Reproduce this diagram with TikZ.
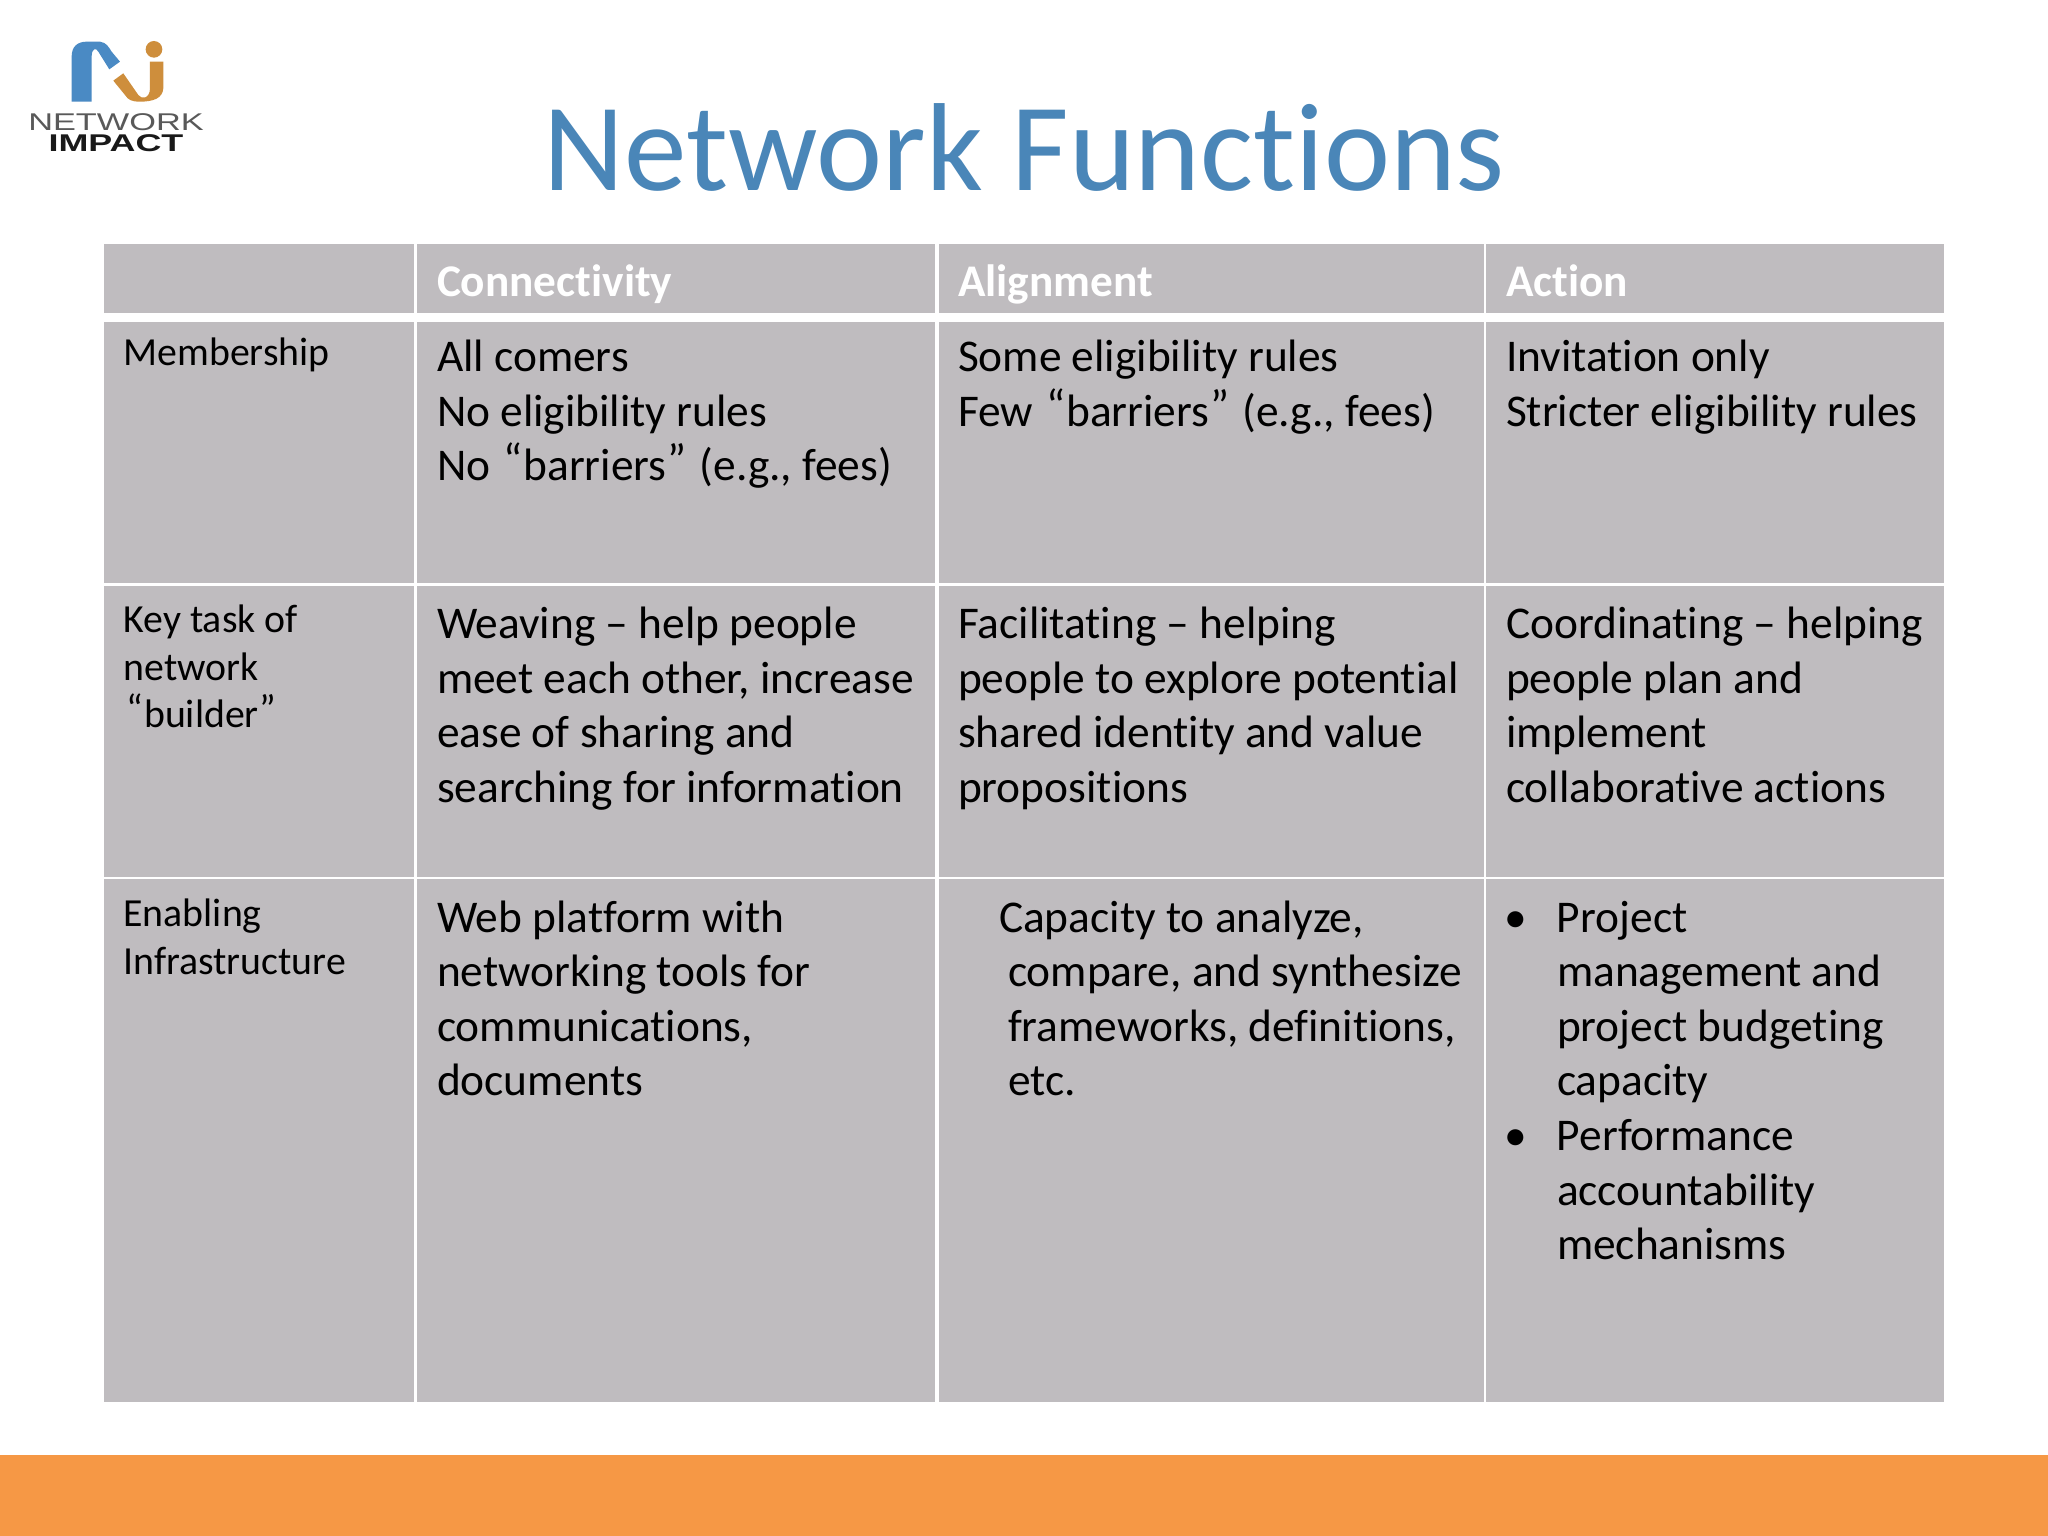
\documentclass[tikz,border=0pt]{standalone}
\usepackage{fontspec}
\setmainfont[Ligatures={NoCommon}]{Carlito}
\newfontfamily\logofont{Liberation Sans}
\definecolor{cellgray}{HTML}{BFBCBF}
\definecolor{titleblue}{HTML}{4A86B8}
\definecolor{bandorange}{HTML}{F69845}
\definecolor{logoblue}{HTML}{4A8AC4}
\definecolor{logoorange}{HTML}{CE8E3C}
\newcommand{\bodyfont}{\fontsize{45.4}{54.6}\selectfont}
\newcommand{\labelfont}{\fontsize{39.8}{47.7}\selectfont}
\newcommand{\cellpar}[2]{\parbox[t]{#1pt}{\raggedright\leavevmode #2}}
\newcommand{\qo}{\raisebox{5pt}{\kern3pt “\kern1pt}}
\newcommand{\qc}{\raisebox{5pt}{\kern1pt ”\kern3pt}}
\tikzset{
  cellbox/.style={fill=cellgray,draw=none,anchor=north west,inner sep=0pt,outer sep=0pt},
  txt/.style={anchor=base west,inner sep=0pt,outer sep=0pt,text=black},
  headtxt/.style={anchor=base west,inner sep=0pt,outer sep=0pt,text=white,font=\fontsize{45.3}{50}\selectfont\bfseries},
}
\begin{document}
\begin{tikzpicture}[x=1pt,y=-1pt]
\useasboundingbox (0,0) rectangle (2048,1536);
\fill[white] (0,0) rectangle (2048,1536);
\fill[bandorange] (0,1455) rectangle (2048,1536);
% logo
\begin{scope}[shift={(0,20)},x=0.3333pt,y=-0.3333pt]
\fill[logoblue] (215,245) -- (215,110) .. controls (215,80) and (232,65) .. (260,65) -- (300,65) .. controls (320,68) and (325,80) .. (335,95) -- (360,125) -- (328,148) -- (295,95) .. controls (288,82) and (275,85) .. (275,110) -- (275,245) -- cycle;
\fill[logoorange] (462,88) circle[radius=25];
\fill[logoorange] (340,182) -- (370,160) -- (415,225) .. controls (425,240) and (450,235) .. (450,205) -- (450,125) -- (490,125) -- (490,205) .. controls (488,235) and (460,245) .. (420,245) .. controls (395,245) and (385,240) .. (375,225) -- cycle;
\end{scope}
\node[inner sep=0pt,text=black!65,font=\logofont\fontsize{22}{22}\selectfont] (logoa) at (116,122) {\scalebox{1.56}[1.1]{NETWORK}};
\node[inner sep=0pt,text=black!90,font=\logofont\bfseries\fontsize{22}{22}\selectfont] (logob) at (116,143) {\scalebox{1.63}[1.1]{IMPACT}};
% title
\node[anchor=base,inner sep=0pt,text=titleblue,font=\fontsize{125.2}{130}\selectfont] (title) at (1024.5,190) {Network Functions};
% cells
\node[cellbox,minimum width=310pt,minimum height=69pt] (h0) at (104,244) {};
\node[cellbox,minimum width=518pt,minimum height=69pt] (h1) at (417,244) {};
\node[cellbox,minimum width=545pt,minimum height=69pt] (h2) at (939,244) {};
\node[cellbox,minimum width=458pt,minimum height=69pt] (h3) at (1486,244) {};
\node[cellbox,minimum width=310pt,minimum height=261pt] (a0) at (104,322) {};
\node[cellbox,minimum width=518pt,minimum height=261pt] (a1) at (417,322) {};
\node[cellbox,minimum width=545pt,minimum height=261pt] (a2) at (939,322) {};
\node[cellbox,minimum width=458pt,minimum height=261pt] (a3) at (1486,322) {};
\node[cellbox,minimum width=310pt,minimum height=291pt] (b0) at (104,586) {};
\node[cellbox,minimum width=518pt,minimum height=291pt] (b1) at (417,586) {};
\node[cellbox,minimum width=545pt,minimum height=291pt] (b2) at (939,586) {};
\node[cellbox,minimum width=458pt,minimum height=291pt] (b3) at (1486,586) {};
\node[cellbox,minimum width=310pt,minimum height=523pt] (c0) at (104,879) {};
\node[cellbox,minimum width=518pt,minimum height=523pt] (c1) at (417,879) {};
\node[cellbox,minimum width=545pt,minimum height=523pt] (c2) at (939,879) {};
\node[cellbox,minimum width=458pt,minimum height=523pt] (c3) at (1486,879) {};
% headers
\node[headtxt] (t1) at (437,296.5) {Connectivity};
\node[headtxt] (t2) at (958,296.5) {Alignment};
\node[headtxt] (t3) at (1506,296.5) {Action};
% row labels
\node[txt] (l1) at (123.5,365.5) {\labelfont\cellpar{285}{Membership}};
\node[txt] (l2) at (123.5,632.5) {\labelfont\cellpar{285}{Key task of\\network\\\qo builder\qc}};
\node[txt] (l3) at (123.5,926.5) {\labelfont\cellpar{285}{Enabling\\Infrastructure}};
% row 1
\node[txt] (x11) at (437,371.7) {\bodyfont\cellpar{495}{All comers\\No eligibility rules\\No \qo barriers\qc\ (e.g., fees)}};
\node[txt] (x12) at (958,371.7) {\bodyfont\cellpar{520}{Some eligibility rules\\Few \qo barriers\qc\ (e.g., fees)}};
\node[txt] (x13) at (1506,371.7) {\bodyfont\cellpar{436}{Invitation only\\Stricter eligibility rules}};
% row 2
\node[txt] (x21) at (437,638.5) {\bodyfont\cellpar{495}{Weaving – help people\\meet each other, increase\\ease of sharing and\\searching for information}};
\node[txt] (x22) at (958,638.5) {\bodyfont\cellpar{520}{Facilitating – helping\\people to explore potential\\shared identity and value\\propositions}};
\node[txt] (x23) at (1506,638.5) {\bodyfont\cellpar{436}{Coordinating – helping\\people plan and\\implement\\collaborative actions}};
% row 3
\node[txt] (x31) at (437,932) {\bodyfont\cellpar{495}{Web platform with\\networking tools for\\communications,\\documents}};
\node[txt] (x32) at (1008,932) {\bodyfont\cellpar{470}{\hspace*{-9pt}Capacity to analyze,\\compare, and synthesize\\frameworks, definitions,\\etc.}};
\node[txt] (x33) at (1557,932) {\bodyfont\cellpar{380}{\llap{•\hspace{30pt}}Project\\management and\\project budgeting\\capacity\\\leavevmode\llap{•\hspace{30pt}}Performance\\accountability\\mechanisms}};
\end{tikzpicture}
\end{document}
